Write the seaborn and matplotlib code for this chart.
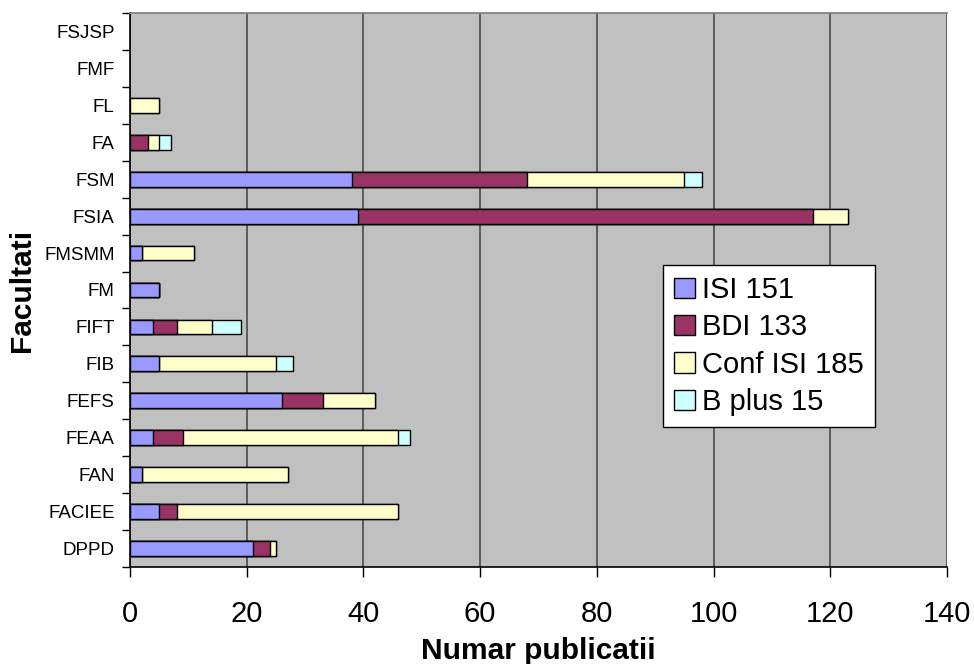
import numpy as np
import pandas as pd
import matplotlib
matplotlib.use("Agg")
import matplotlib.pyplot as plt
import seaborn as sns
from matplotlib.patches import Patch

# ------------------------------
# DATA
# ------------------------------
facultati = ["FSJSP", "FMF", "FL", "FA", "FSM", "FSIA", "FMSMM", "FM",
             "FIFT", "FIB", "FEFS", "FEAA", "FAN", "FACIEE", "DPPD"]
isi = [0, 0, 0, 0, 38, 39, 2, 5, 4, 5, 26, 4, 2, 5, 21]
bdi = [0, 0, 0, 3, 30, 78, 0, 0, 4, 0, 7, 5, 0, 3, 3]
conf_isi = [0, 0, 5, 2, 27, 6, 9, 0, 6, 20, 9, 37, 25, 38, 1]
b_plus = [0, 0, 0, 2, 3, 0, 0, 0, 5, 3, 0, 2, 0, 0, 0]

series_names = ["ISI 151", "BDI 133", "Conf ISI 185", "B plus 15"]
colors = ["#9999FF", "#993366", "#FFFFCC", "#CCFFFF"]

df = pd.DataFrame({"Facultate": facultati, "ISI": isi, "BDI": bdi,
                   "Conf": conf_isi, "B": b_plus})
cum = df[["ISI", "BDI", "Conf", "B"]].cumsum(axis=1)
cum["Facultate"] = df["Facultate"]

# ------------------------------
# PLOT
# ------------------------------
sns.set_theme(style="white")
plt.rcParams["font.family"] = ["Liberation Sans", "DejaVu Sans"]
plt.rcParams["text.color"] = "black"
plt.rcParams["axes.labelcolor"] = "black"
plt.rcParams["xtick.color"] = "black"
plt.rcParams["ytick.color"] = "black"

fig = plt.figure(figsize=(9.74, 6.64), dpi=100)
ax = fig.add_axes([130 / 974, 1 - 567 / 664, 817 / 974, 554 / 664])
ax.set_facecolor("#C0C0C0")

# stacked bars: draw the cumulative totals from largest to smallest
for col, color in zip(["B", "Conf", "BDI", "ISI"], colors[::-1]):
    sns.barplot(data=cum, x=col, y="Facultate", order=facultati, color=color,
                width=0.4, edgecolor="black", linewidth=1.0, orient="h",
                errorbar=None, ax=ax, saturation=1)

# empty bars should leave no outline on the axis
for p in ax.patches:
    if p.get_width() == 0:
        p.set_linewidth(0)

ax.set_xlim(0, 140)
ax.set_ylim(len(facultati) - 0.5, -0.5)
ax.set_xticks(np.arange(0, 141, 20))
ax.xaxis.grid(True, color="#4a4a4a", linewidth=1.2)
ax.set_axisbelow(True)

ax.tick_params(axis="x", labelsize=21, length=7, width=1, color="black",
               labelcolor="black", direction="out", bottom=True, pad=17)
ax.tick_params(axis="y", which="major", labelsize=13.5, length=0, pad=11,
               labelcolor="black")
ax.set_yticks(np.arange(-0.5, len(facultati), 1), minor=True)
ax.tick_params(axis="y", which="minor", length=6, width=1, color="black",
               direction="out", left=True)

for s in ["left", "bottom"]:
    ax.spines[s].set_color("black")
    ax.spines[s].set_linewidth(1.2)
ax.spines["top"].set_color("#808080")
ax.spines["right"].set_visible(False)

ax.set_xlabel("Numar publicatii", fontsize=21.5, fontweight="bold",
              labelpad=6, color="black")
ax.set_ylabel("Facultati", fontsize=21.5, fontweight="bold", labelpad=6,
              color="black")

handles = [Patch(facecolor=c, edgecolor="black", linewidth=1.0) for c in colors]
leg = ax.legend(handles, series_names, loc="upper left",
                bbox_to_anchor=((663 - 130) / 817, (567 - 265) / 554),
                fontsize=21, frameon=True, fancybox=False, framealpha=1,
                edgecolor="black", handlelength=0.7, handleheight=0.7,
                handletextpad=0.25, labelspacing=0.32, borderpad=0.38,
                borderaxespad=0)
leg.get_frame().set_linewidth(1.0)
for t in leg.get_texts():
    t.set_color("black")

fig.savefig("out.png", dpi=100)
